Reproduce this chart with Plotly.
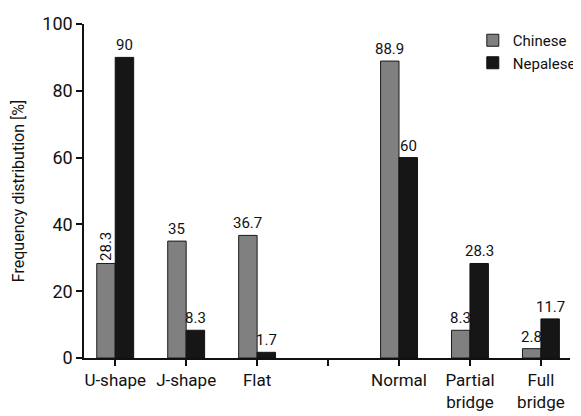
import plotly.graph_objects as go

categories = ["U-shape", "J-shape", "Flat", "", "Normal", "Partial<br>bridge", "Full<br>bridge"]
chinese = [28.3, 35, 36.7, None, 88.9, 8.3, 2.8]
nepalese = [90, 8.3, 1.7, None, 60, 28.3, 11.7]
chinese_labels = ["28.3", "35", "36.7", "", "88.9", "8.3", "2.8"]
nepalese_labels = ["90", "8.3", "1.7", "", "60", "28.3", "11.7"]
ytick_vals = [0, 20, 40, 60, 80, 100]

FONT = "Roboto, Liberation Sans, sans-serif"
x = list(range(len(categories)))
half = 0.13

fig = go.Figure()
fig.add_trace(go.Bar(x=x, y=chinese, name="Chinese",
                     marker=dict(color="#808080", line=dict(color="#1a1a1a", width=1))))
fig.add_trace(go.Bar(x=x, y=nepalese, name="Nepalese",
                     marker=dict(color="#161616", line=dict(color="#111111", width=1))))

annotations = []
for i, (v, t) in enumerate(zip(chinese, chinese_labels)):
    if v is None:
        continue
    rot = -90 if i == 0 else 0
    annotations.append(dict(x=i - half, y=v, text=t, showarrow=False, textangle=rot,
                            yanchor="bottom", xanchor="center", yshift=1,
                            font=dict(family=FONT, size=15, color="#111")))
for i, (v, t) in enumerate(zip(nepalese, nepalese_labels)):
    if v is None:
        continue
    annotations.append(dict(x=i + half, y=v, text=t, showarrow=False,
                            yanchor="bottom", xanchor="center", yshift=1,
                            font=dict(family=FONT, size=15, color="#111")))

# page body has an 8px default margin; size/margins compensate for it
fig.update_layout(
    width=573, height=408,
    margin=dict(l=76, r=0, t=16, b=58),
    paper_bgcolor="white", plot_bgcolor="white",
    barmode="group", bargap=0.48, bargroupgap=0,
    font=dict(family=FONT, size=17, color="#111"),
    showlegend=True,
    legend=dict(x=0.8, y=1.0, xanchor="left", yanchor="top",
                font=dict(family=FONT, size=15, color="#111"),
                bgcolor="rgba(0,0,0,0)", tracegroupgap=4),
    annotations=annotations,
    xaxis=dict(range=[-0.44, 6.41], tickmode="array", tickvals=x, ticktext=categories,
               showline=True, linecolor="#111", linewidth=1.5, ticks="outside",
               ticklen=6, tickcolor="#111", tickwidth=1.5, showgrid=False, zeroline=False,
               tickfont=dict(family=FONT, size=17, color="#111")),
    yaxis=dict(range=[0, 100], tickmode="array", tickvals=ytick_vals,
               showline=True, linecolor="#111", linewidth=1.5, ticks="outside",
               ticklen=6, tickcolor="#111", tickwidth=1.5, showgrid=False, zeroline=False,
               tickfont=dict(family=FONT, size=18, color="#111"),
               title=dict(text="Frequency distribution [%]", standoff=14,
                          font=dict(family=FONT, size=16, color="#111"))),
)

fig.write_html("out.html")
